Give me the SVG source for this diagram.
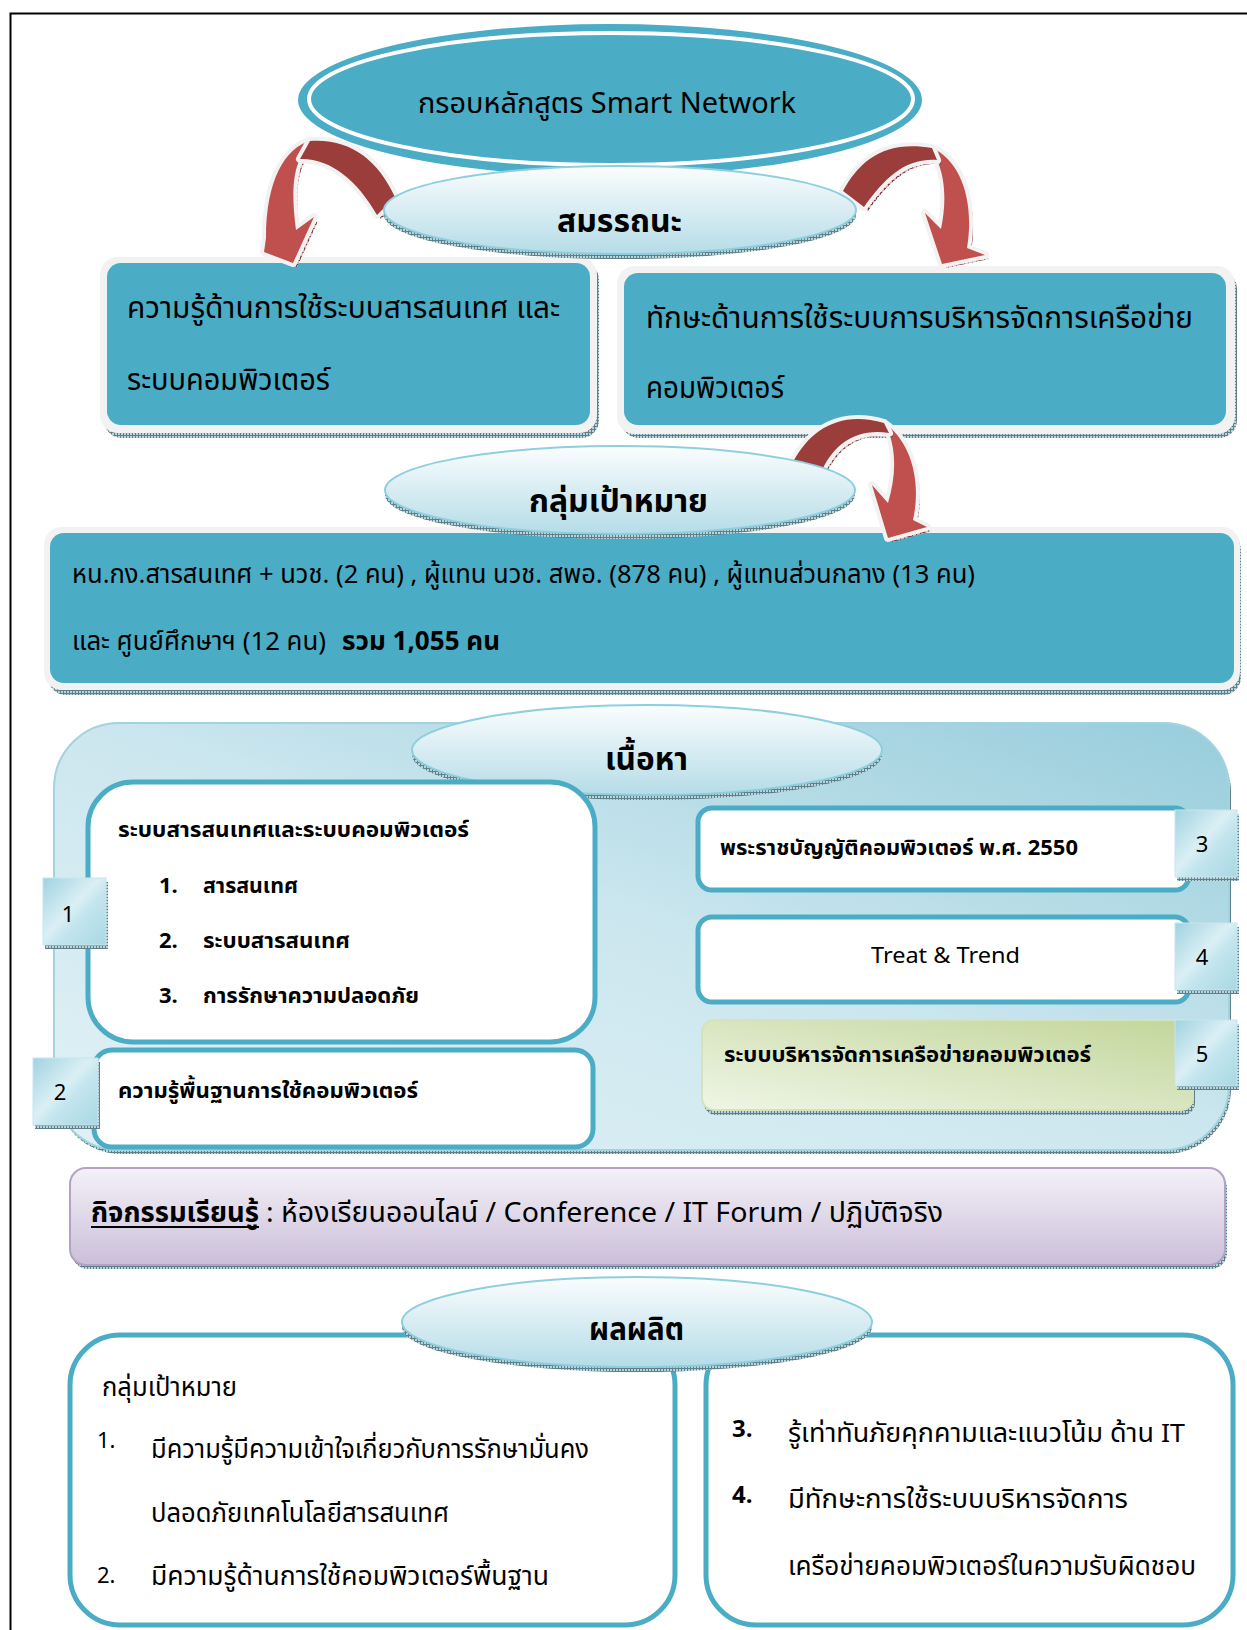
<svg xmlns="http://www.w3.org/2000/svg" width="1247" height="1630" viewBox="0 0 1247 1630">
<style>
.t{font-family:"Noto Sans Thai","Noto Sans","DejaVu Sans","Liberation Sans",sans-serif;fill:#000}
.b{font-weight:bold}
.frame{fill:#f2f2f2}
.teal{fill:#4bacc6}
.ell{fill:url(#ellG);stroke:#8ecfdf;stroke-width:2}
.rim{fill:url(#hatchB)}
.shadow{fill:url(#hatchB)}
.wbox{fill:#fff;stroke:#4bacc6;stroke-width:5}
.lab{fill:url(#labG);stroke:#c8e6ee;stroke-width:1}
.arrD{fill:#9b3d3b;stroke:#f2f2f2;stroke-width:8;paint-order:stroke;stroke-linejoin:round}
.arrL{fill:#c0504d;stroke:#f2f2f2;stroke-width:8;paint-order:stroke;stroke-linejoin:round}
.arrS{fill:url(#hatchR)}
</style>
<defs>
<pattern id="hatchB" width="3" height="3" patternUnits="userSpaceOnUse">
<rect width="3" height="3" fill="#b9d3da"/>
<path d="M0.5 0V3M0 0.5H3" stroke="#5f7f8a" stroke-width="1"/>
</pattern>
<pattern id="hatchR" width="4" height="4" patternUnits="userSpaceOnUse">
<rect width="4" height="4" fill="#d9b3b2"/>
<path d="M0.5 0V4M0 0.5H4" stroke="#7a3433" stroke-width="1"/>
</pattern>
<linearGradient id="ellG" x1="0" y1="0" x2="0" y2="1">
<stop offset="0" stop-color="#fbfdfe"/>
<stop offset="1" stop-color="#b5dce7"/>
</linearGradient>
<linearGradient id="contG" x1="0" y1="1" x2="1" y2="0">
<stop offset="0" stop-color="#e0f1f6"/>
<stop offset="0.5" stop-color="#cde7ef"/>
<stop offset="1" stop-color="#97cddb"/>
</linearGradient>
<linearGradient id="labG" x1="0" y1="0" x2="1" y2="1">
<stop offset="0" stop-color="#9fd3e0"/>
<stop offset="0.45" stop-color="#dbeff5"/>
<stop offset="0.6" stop-color="#c3e5ee"/>
<stop offset="1" stop-color="#a8d8e4"/>
</linearGradient>
<linearGradient id="greenG" x1="0" y1="1" x2="1" y2="0">
<stop offset="0" stop-color="#eff5e6"/>
<stop offset="1" stop-color="#c2d69a"/>
</linearGradient>
<linearGradient id="purpG" x1="0" y1="0" x2="0" y2="1">
<stop offset="0" stop-color="#f4f1f8"/>
<stop offset="1" stop-color="#cbbfd9"/>
</linearGradient>
</defs>

<rect width="1247" height="1630" fill="#fff"/>
<path d="M10.5 1630V13.5H1247" fill="none" stroke="#000" stroke-width="2"/>

<g id="node-title">
<ellipse cx="610" cy="100" rx="312" ry="76" class="teal"/>
<ellipse cx="611" cy="99" rx="302" ry="66" fill="none" stroke="#fff" stroke-width="4"/>
<text class="t" x="418" y="113" font-size="29" textLength="378" lengthAdjust="spacingAndGlyphs">กรอบหลักสูตร Smart Network</text>
</g>

<g id="node-knowledge">
<rect x="104" y="262" width="495" height="176" rx="18" class="shadow"/>
<rect x="100" y="257" width="497" height="176" rx="18" class="frame"/>
<rect x="107" y="263" width="483" height="162" rx="14" class="teal"/>
<text class="t" x="127" y="318" font-size="30" textLength="433" lengthAdjust="spacingAndGlyphs">ความรู้ด้านการใช้ระบบสารสนเทศ และ</text>
<text class="t" x="127" y="390" font-size="30" textLength="203" lengthAdjust="spacingAndGlyphs">ระบบคอมพิวเตอร์</text>
</g>

<g id="node-skill">
<rect x="621" y="271" width="616" height="167" rx="18" class="shadow"/>
<rect x="617" y="266" width="618" height="168" rx="18" class="frame"/>
<rect x="624" y="273" width="602" height="152" rx="14" class="teal"/>
<text class="t" x="646" y="328" font-size="30" textLength="547" lengthAdjust="spacingAndGlyphs">ทักษะด้านการใช้ระบบการบริหารจัดการเครือข่าย</text>
<text class="t" x="646" y="398" font-size="30" textLength="138" lengthAdjust="spacingAndGlyphs">คอมพิวเตอร์</text>
</g>

<g id="node-target-box">
<rect x="48" y="532" width="1193" height="163" rx="18" class="shadow"/>
<rect x="44" y="527" width="1196" height="163" rx="18" class="frame"/>
<rect x="50" y="533" width="1184" height="150" rx="14" class="teal"/>
<text class="t" x="72" y="583" font-size="26" textLength="903" lengthAdjust="spacingAndGlyphs">หน.กง.สารสนเทศ + นวช. (2 คน) , ผู้แทน นวช. สพอ. (878 คน) , ผู้แทนส่วนกลาง (13 คน)</text>
<text class="t" x="72" y="650" font-size="26" textLength="254" lengthAdjust="spacingAndGlyphs">และ ศูนย์ศึกษาฯ (12 คน)</text>
<text class="t b" x="342" y="650" font-size="26" textLength="158" lengthAdjust="spacingAndGlyphs">รวม 1,055 คน</text>
</g>

<g id="connectors">
<g id="arrow-left">
<path class="arrS" d="M314 145 C289 152 270 184 270 242 L268 256 L297 267 L318 221 L300 234 C296 204 296 179 304 163 Z"/>
<path class="arrL" d="M310 141 C285 148 266 180 266 238 L264 252 L293 263 L314 217 L296 230 C292 200 292 175 300 159 Z"/>
<path class="arrS" d="M399 201 C382 164 354 142 314 145 L304 163 C334 162 361 184 381 219 Z"/>
<path class="arrD" d="M395 197 C378 160 350 138 310 141 L300 159 C330 158 357 180 377 215 Z"/>
</g>
<g id="arrow-right">
<path class="arrS" d="M936 152 C964 164 979 204 971 252 L989 259 L946 268 L929 217 L945 233 C950 209 950 184 941 164 Z"/>
<path class="arrL" d="M932 148 C960 160 975 200 967 248 L985 255 L942 264 L925 213 L941 229 C946 205 946 180 937 160 Z"/>
<path class="arrS" d="M847 195 C864 164 889 144 936 152 L941 164 C909 162 889 182 868 211 Z"/>
<path class="arrD" d="M843 191 C860 160 885 140 932 148 L937 160 C905 158 885 178 864 207 Z"/>
</g>
<g id="arrow-target">
<path class="arrS" d="M888 427 C914 444 926 484 917 524 L931 531 L892 542 L876 489 L892 507 C899 484 901 459 893 437 Z"/>
<path class="arrL" d="M884 423 C910 440 922 480 913 520 L927 527 L888 538 L872 485 L888 503 C895 480 897 455 889 433 Z"/>
<path class="arrS" d="M797 466 C814 434 844 414 888 427 L893 437 C859 432 839 449 827 472 Z"/>
<path class="arrD" d="M793 462 C810 430 840 410 884 423 L889 433 C855 428 835 445 823 468 Z"/>
</g>
</g>

<g id="node-competency">
<ellipse cx="620" cy="215" rx="236" ry="44" class="rim"/>
<ellipse cx="620" cy="210" rx="236" ry="44" class="ell"/>
<text class="t b" x="557" y="232" font-size="32" textLength="125" lengthAdjust="spacingAndGlyphs">สมรรถนะ</text>
</g>

<g id="node-target">
<ellipse cx="620" cy="495" rx="235" ry="44" class="rim"/>
<ellipse cx="620" cy="490" rx="235" ry="44" class="ell"/>
<text class="t b" x="529" y="512" font-size="32" textLength="179" lengthAdjust="spacingAndGlyphs">กลุ่มเป้าหมาย</text>
</g>

<g id="node-content">
<rect x="56" y="727" width="1175" height="427" rx="65" class="shadow"/>
<rect x="54" y="723" width="1175" height="427" rx="65" fill="url(#contG)" stroke="#a3d3df" stroke-width="2"/>
<ellipse cx="647" cy="755" rx="235" ry="45" class="rim"/>
<ellipse cx="647" cy="750" rx="235" ry="45" class="ell"/>
<text class="t b" x="605" y="770" font-size="32" textLength="83" lengthAdjust="spacingAndGlyphs">เนื้อหา</text>
</g>

<g id="node-content-1">
<rect x="88" y="782" width="507" height="260" rx="45" class="wbox"/>
<text class="t b" x="118" y="837" font-size="22" textLength="351" lengthAdjust="spacingAndGlyphs">ระบบสารสนเทศและระบบคอมพิวเตอร์</text>
<text class="t b" x="159" y="893" font-size="22">1.</text>
<text class="t b" x="203" y="893" font-size="22" textLength="95" lengthAdjust="spacingAndGlyphs">สารสนเทศ</text>
<text class="t b" x="159" y="948" font-size="22">2.</text>
<text class="t b" x="203" y="948" font-size="22" textLength="147" lengthAdjust="spacingAndGlyphs">ระบบสารสนเทศ</text>
<text class="t b" x="159" y="1003" font-size="22">3.</text>
<text class="t b" x="203" y="1003" font-size="22" textLength="216" lengthAdjust="spacingAndGlyphs">การรักษาความปลอดภัย</text>
<rect x="45" y="882" width="63" height="67" class="shadow"/>
<rect x="43" y="878" width="63" height="67" class="lab"/>
<text class="t" x="68" y="922" font-size="22" text-anchor="middle">1</text>
</g>

<g id="node-content-2">
<rect x="94" y="1050" width="499" height="97" rx="18" class="wbox"/>
<text class="t b" x="118" y="1098" font-size="22" textLength="300" lengthAdjust="spacingAndGlyphs">ความรู้พื้นฐานการใช้คอมพิวเตอร์</text>
<rect x="35" y="1062" width="65" height="67" class="shadow"/>
<rect x="33" y="1058" width="65" height="67" class="lab"/>
<text class="t" x="60" y="1100" font-size="22" text-anchor="middle">2</text>
</g>

<g id="node-content-3">
<rect x="698" y="808" width="491" height="82" rx="14" class="wbox"/>
<text class="t b" x="720" y="855" font-size="22" textLength="358" lengthAdjust="spacingAndGlyphs">พระราชบัญญัติคอมพิวเตอร์ พ.ศ. 2550</text>
<rect x="1177" y="814" width="62" height="67" class="shadow"/>
<rect x="1175" y="810" width="62" height="67" class="lab"/>
<text class="t" x="1202" y="852" font-size="22" text-anchor="middle">3</text>
</g>

<g id="node-content-4">
<rect x="698" y="917" width="491" height="85" rx="14" class="wbox"/>
<text class="t" x="871" y="963" font-size="22" textLength="149" lengthAdjust="spacingAndGlyphs">Treat &amp; Trend</text>
<rect x="1177" y="927" width="62" height="67" class="shadow"/>
<rect x="1175" y="923" width="62" height="67" class="lab"/>
<text class="t" x="1202" y="965" font-size="22" text-anchor="middle">4</text>
</g>

<g id="node-content-5">
<rect x="704" y="1025" width="491" height="90" rx="12" class="shadow"/>
<rect x="702" y="1020" width="491" height="90" rx="12" fill="url(#greenG)" stroke="#d5e3bb" stroke-width="2"/>
<text class="t b" x="724" y="1062" font-size="22" textLength="367" lengthAdjust="spacingAndGlyphs">ระบบบริหารจัดการเครือข่ายคอมพิวเตอร์</text>
<rect x="1177" y="1024" width="62" height="66" class="shadow"/>
<rect x="1175" y="1020" width="62" height="66" class="lab"/>
<text class="t" x="1202" y="1062" font-size="22" text-anchor="middle">5</text>
</g>

<g id="node-activity">
<rect x="72" y="1172" width="1155" height="97" rx="16" class="shadow"/>
<rect x="70" y="1168" width="1155" height="97" rx="16" fill="url(#purpG)" stroke="#b3a2c7" stroke-width="2"/>
<text class="t b" x="91" y="1222" font-size="28" textLength="168" lengthAdjust="spacingAndGlyphs">กิจกรรมเรียนรู้</text>
<line x1="91" y1="1227" x2="259" y2="1227" stroke="#000" stroke-width="2"/>
<text class="t" x="266" y="1222" font-size="28" textLength="677" lengthAdjust="spacingAndGlyphs">: ห้องเรียนออนไลน์ / Conference / IT Forum / ปฏิบัติจริง</text>
</g>

<g id="node-output-left">
<rect x="70" y="1335" width="605" height="290" rx="50" class="wbox" stroke-width="6"/>
<text class="t" x="102" y="1396" font-size="26" textLength="135" lengthAdjust="spacingAndGlyphs">กลุ่มเป้าหมาย</text>
<text class="t" x="97" y="1448" font-size="22">1.</text>
<text class="t" x="151" y="1458" font-size="26" textLength="438" lengthAdjust="spacingAndGlyphs">มีความรู้มีความเข้าใจเกี่ยวกับการรักษามั่นคง</text>
<text class="t" x="151" y="1522" font-size="26" textLength="298" lengthAdjust="spacingAndGlyphs">ปลอดภัยเทคโนโลยีสารสนเทศ</text>
<text class="t" x="97" y="1583" font-size="22">2.</text>
<text class="t" x="151" y="1585" font-size="26" textLength="398" lengthAdjust="spacingAndGlyphs">มีความรู้ด้านการใช้คอมพิวเตอร์พื้นฐาน</text>
</g>

<g id="node-output-right">
<rect x="706" y="1335" width="527" height="290" rx="50" class="wbox" stroke-width="6"/>
<text class="t b" x="732" y="1437" font-size="24">3.</text>
<text class="t" x="788" y="1442" font-size="26" textLength="397" lengthAdjust="spacingAndGlyphs">รู้เท่าทันภัยคุกคามและแนวโน้ม ด้าน IT</text>
<text class="t b" x="732" y="1503" font-size="24">4.</text>
<text class="t" x="788" y="1508" font-size="26" textLength="340" lengthAdjust="spacingAndGlyphs">มีทักษะการใช้ระบบบริหารจัดการ</text>
<text class="t" x="788" y="1575" font-size="26" textLength="408" lengthAdjust="spacingAndGlyphs">เครือข่ายคอมพิวเตอร์ในความรับผิดชอบ</text>
</g>

<g id="node-output">
<ellipse cx="637" cy="1327" rx="235" ry="45" class="rim"/>
<ellipse cx="637" cy="1322" rx="235" ry="45" class="ell"/>
<text class="t b" x="589" y="1340" font-size="32" textLength="95" lengthAdjust="spacingAndGlyphs">ผลผลิต</text>
</g>
</svg>
